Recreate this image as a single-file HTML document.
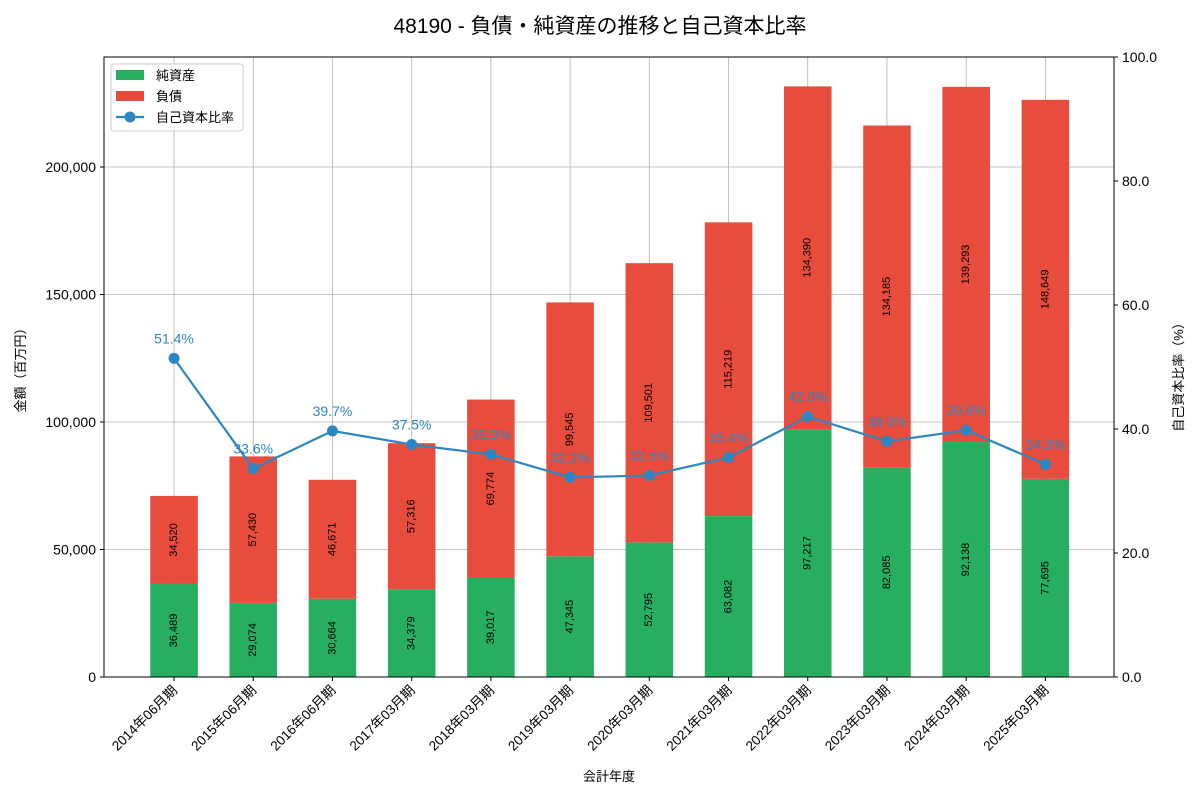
<!DOCTYPE html>
<html><head><meta charset="utf-8"><style>
body{margin:0;background:#fff;}
svg text{font-family:"Liberation Sans","Noto Sans CJK JP",sans-serif;}
</style></head><body>
<svg id="chart" width="1200" height="800" xmlns="http://www.w3.org/2000/svg"></svg>
<script>
const categories=["2014年06月期","2015年06月期","2016年06月期","2017年03月期","2018年03月期","2019年03月期","2020年03月期","2021年03月期","2022年03月期","2023年03月期","2024年03月期","2025年03月期"];
const netAssets=[36489,29074,30664,34379,39017,47345,52795,63082,97217,82085,92138,77695];
const liabilities=[34520,57430,46671,57316,69774,99545,109501,115219,134390,134185,139293,148649];
const ratios=[51.4,33.6,39.7,37.5,35.9,32.2,32.5,35.4,42.0,38.0,39.8,34.3];
const leftTicks=[0,50000,100000,150000,200000];
const rightTicks=[0,20,40,60,80,100];

const svg=document.getElementById('chart');
const NS='http://www.w3.org/2000/svg';
const L=104,R=1114,T=57,B=677;
const yMax=243137;
const xs=i=>L+(i+0.884)/12.75*(R-L);
const yl=v=>B-v/yMax*(B-T);
const yr=v=>B-v/100*(B-T);
const bw=0.6/12.75*(R-L);
function mk(tag,attrs,name,text){const e=document.createElementNS(NS,tag);for(const k in attrs)e.setAttribute(k,attrs[k]);


if(text!==undefined)e.textContent=text;svg.appendChild(e);return e;}
const fmt=v=>v.toLocaleString('en-US');

mk('text',{x:600,y:33,'text-anchor':'middle','font-size':21},'chart-title','48190 - 負債・純資産の推移と自己資本比率');
// grid
categories.forEach((c,i)=>mk('line',{x1:xs(i),x2:xs(i),y1:T,y2:B,stroke:'#b0b0b0','stroke-width':0.8},'grid-x'));
leftTicks.forEach(t=>mk('line',{x1:L,x2:R,y1:yl(t),y2:yl(t),stroke:'#b0b0b0','stroke-width':0.8},'grid-y'));
// bars
categories.forEach((c,i)=>{
 const x=xs(i)-bw/2;
 mk('rect',{x:x,y:yl(netAssets[i]),width:bw,height:yl(0)-yl(netAssets[i]),fill:'#27ae60'},'bar-net-assets');
 mk('rect',{x:x,y:yl(netAssets[i]+liabilities[i]),width:bw,height:yl(0)-yl(liabilities[i]),fill:'#e74c3c'},'bar-liabilities');
 const y1=(yl(0)+yl(netAssets[i]))/2, y2=(yl(netAssets[i])+yl(netAssets[i]+liabilities[i]))/2;
 mk('text',{x:xs(i),y:y1,'font-size':11,'text-anchor':'middle','dominant-baseline':'middle',transform:`rotate(-90 ${xs(i)} ${y1})`},'net-assets-label',fmt(netAssets[i]));
 mk('text',{x:xs(i),y:y2,'font-size':11,'text-anchor':'middle','dominant-baseline':'middle',transform:`rotate(-90 ${xs(i)} ${y2})`},'liabilities-label',fmt(liabilities[i]));
});
// line
mk('polyline',{points:ratios.map((r,i)=>xs(i)+','+yr(r)).join(' '),fill:'none',stroke:'#2e86c1','stroke-width':2.2},'ratio-line');
ratios.forEach((r,i)=>{
 mk('circle',{cx:xs(i),cy:yr(r),r:5.5,fill:'#2e86c1'},'ratio-point');
 mk('text',{x:xs(i),y:yr(r)-15,'font-size':14,'text-anchor':'middle',fill:'#2e86c1'},'ratio-label',r.toFixed(1)+'%');
});
// frame
mk('rect',{x:L,y:T,width:R-L,height:B-T,fill:'none',stroke:'#000','stroke-width':1},'plot-frame');
leftTicks.forEach(t=>{mk('line',{x1:L-4,x2:L,y1:yl(t),y2:yl(t),stroke:'#000'},'y-tick');
 mk('text',{x:L-8,y:yl(t)+5,'font-size':14,'text-anchor':'end'},'y-tick-label',fmt(t));});
rightTicks.forEach(t=>{mk('line',{x1:R,x2:R+4,y1:yr(t),y2:yr(t),stroke:'#000'},'y2-tick');
 mk('text',{x:R+8,y:yr(t)+5,'font-size':14},'y2-tick-label',t.toFixed(1));});
categories.forEach((c,i)=>{mk('line',{x1:xs(i),x2:xs(i),y1:B,y2:B+4,stroke:'#000'},'x-tick');
 mk('text',{x:xs(i)+4,y:B+14,'font-size':13.5,'text-anchor':'end',transform:`rotate(-45 ${xs(i)+4} ${B+14})`},'x-tick-label',c);});
mk('text',{x:609,y:781,'font-size':13,'text-anchor':'middle'},'x-axis-title','会計年度');
mk('text',{x:25,y:367,'font-size':13,'text-anchor':'middle',transform:'rotate(-90 25 367)'},'y-axis-title','金額（百万円）');
mk('text',{x:1183,y:374,'font-size':13,'text-anchor':'middle',transform:'rotate(-90 1183 374)'},'y2-axis-title','自己資本比率（%）');
// legend
mk('rect',{x:111,y:64,width:132,height:67,rx:3,fill:'#fff','fill-opacity':0.85,stroke:'#ccc'},'legend');
mk('rect',{x:116,y:70,width:28,height:10,fill:'#27ae60'},'legend-swatch-net-assets');
mk('text',{x:156,y:80,'font-size':13},'legend-label-net-assets','純資産');
mk('rect',{x:116,y:91,width:28,height:10,fill:'#e74c3c'},'legend-swatch-liabilities');
mk('text',{x:156,y:101,'font-size':13},'legend-label-liabilities','負債');
mk('line',{x1:116,x2:144,y1:117,y2:117,stroke:'#2e86c1','stroke-width':2.2},'legend-swatch-ratio');
mk('circle',{cx:130,cy:117,r:5.5,fill:'#2e86c1'},'legend-marker-ratio');
mk('text',{x:156,y:122,'font-size':13},'legend-label-ratio','自己資本比率');
</script>
</body></html>
